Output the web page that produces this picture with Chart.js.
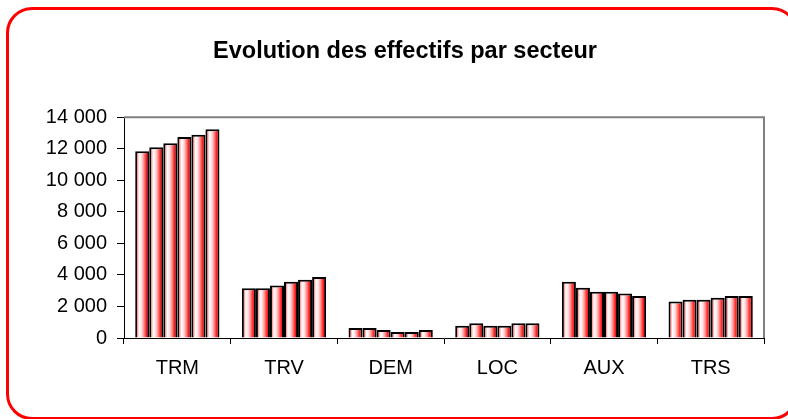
<!DOCTYPE html>
<html lang="fr">
<head>
<meta charset="utf-8">
<title>Evolution des effectifs par secteur</title>
<script src="https://cdn.jsdelivr.net/npm/chart.js@4/dist/chart.umd.min.js"></script>
<style>
  html, body { margin: 0; padding: 0; background: #fff; overflow: hidden; }
  #wrap { position: relative; width: 788px; height: 419px; }
  #frame {
    position: absolute; left: 6px; top: 7px; width: 792px; height: 413px;
    box-sizing: border-box; border: 3px solid #ff0000; border-radius: 26px;
    pointer-events: none;
  }
  canvas { position: absolute; left: 0; top: 0; }
</style>
</head>
<body>
<div id="wrap">
  <canvas id="chart" width="788" height="419"></canvas>
  <div id="frame"></div>
</div>
<script>
(() => {
    'use strict';

    // ===== Données =====
    const secteurs = ['TRM', 'TRV', 'DEM', 'LOC', 'AUX', 'TRS'];
    const series = ['Série 1', 'Série 2', 'Série 3', 'Série 4', 'Série 5', 'Série 6'];
    // une ligne par secteur, une valeur par série
    const trm = [11840, 12090, 12350, 12750, 12880, 13240];
    const trv = [3160, 3160, 3330, 3560, 3690, 3860];
    const dem = [640, 640, 510, 380, 380, 510];
    const loc = [780, 935, 780, 780, 935, 935];
    const aux = [3560, 3180, 2930, 2930, 2820, 2670];
    const trs = [2310, 2420, 2420, 2550, 2670, 2670];
    const yTicks = [0, 2000, 4000, 6000, 8000, 10000, 12000, 14000];

    const rows = [trm, trv, dem, loc, aux, trs];
    const CAT_PCT = 0.79;

    const fmt = (v) => String(v).replace(/\B(?=(\d{3})+(?!\d))/g, ' ');

    // Dégradé rouge / blanc calé sur la barre (position tirée de l'échelle x)
    function barFill(ctx) {
        const chart = ctx.chart;
        const xs = chart.scales.x;
        if (!xs || !chart.chartArea) return '#ff8080';
        const catW = xs.width / secteurs.length;
        const groupW = catW * CAT_PCT;
        const barW = groupW / series.length;
        const cx = xs.getPixelForValue(ctx.dataIndex);
        const x0 = cx - groupW / 2 + ctx.datasetIndex * barW;
        const g = chart.ctx.createLinearGradient(x0, 0, x0 + barW, 0);
        g.addColorStop(0.00, '#ff0000');
        g.addColorStop(0.08, '#ff4040');
        g.addColorStop(0.28, '#ffffff');
        g.addColorStop(0.45, '#ffe0e0');
        g.addColorStop(0.62, '#ff8c8c');
        g.addColorStop(0.80, '#ff1a1a');
        g.addColorStop(1.00, '#ff0000');
        return g;
    }

    // Cadre gris en haut et à droite de la zone de tracé
    const plotBorder = {
        id: 'plotBorder',
        afterDraw(chart) {
            const { ctx, chartArea: a } = chart;
            ctx.save();
            ctx.strokeStyle = '#808080';
            ctx.lineWidth = 2;
            ctx.beginPath();
            ctx.moveTo(a.left, a.top);
            ctx.lineTo(a.right, a.top);
            ctx.lineTo(a.right, a.bottom);
            ctx.stroke();
            ctx.restore();
        }
    };

    const datasets = series.map((name, i) => ({
        label: name,
        data: rows.map(r => r[i]),
        backgroundColor: barFill,
        borderColor: '#000000',
        borderWidth: 2,
        borderSkipped: 'bottom',
        barPercentage: 1.0,
        categoryPercentage: CAT_PCT
    }));

    Chart.defaults.font.family = 'Arial, "Liberation Sans", sans-serif';
    Chart.defaults.color = '#000';

    new Chart(document.getElementById('chart').getContext('2d'), {
        type: 'bar',
        data: { labels: secteurs, datasets },
        options: {
            responsive: false,
            animation: false,
            layout: { padding: { left: 22, right: 0, top: 0, bottom: 0 } },
            plugins: {
                legend: { display: false },
                tooltip: { enabled: false },
                title: {
                    display: true,
                    text: 'Evolution des effectifs par secteur',
                    color: '#000',
                    font: { size: 23.5, weight: 'bold' },
                    padding: { top: 37, bottom: 52 }
                }
            },
            scales: {
                x: {
                    grid: {
                        display: true, drawOnChartArea: false, offset: true,
                        drawTicks: true, tickLength: 6, color: '#000', lineWidth: 1
                    },
                    border: { display: true, color: '#000', width: 1 },
                    ticks: { font: { size: 20 }, padding: 12, color: '#000' },
                    afterFit: (s) => { s.height = 81; }
                },
                y: {
                    min: 0,
                    max: 14000,
                    afterBuildTicks: (s) => { s.ticks = yTicks.map(v => ({ value: v })); },
                    grid: {
                        display: true, drawOnChartArea: false,
                        drawTicks: true, tickLength: 7, color: '#000', lineWidth: 1
                    },
                    border: { display: true, color: '#000', width: 1 },
                    ticks: { font: { size: 20 }, padding: 10, color: '#000', callback: (v) => fmt(v) },
                    afterFit: (s) => { s.width = 102; }
                },
                // axe vide à droite, sert seulement de marge
                yr: {
                    position: 'right',
                    display: true,
                    min: 0,
                    max: 14000,
                    grid: { display: false },
                    border: { display: false },
                    ticks: { display: false },
                    afterFit: (s) => { s.width = 24; }
                }
            }
        },
        plugins: [plotBorder]
    });
})();
</script>
</body>
</html>
